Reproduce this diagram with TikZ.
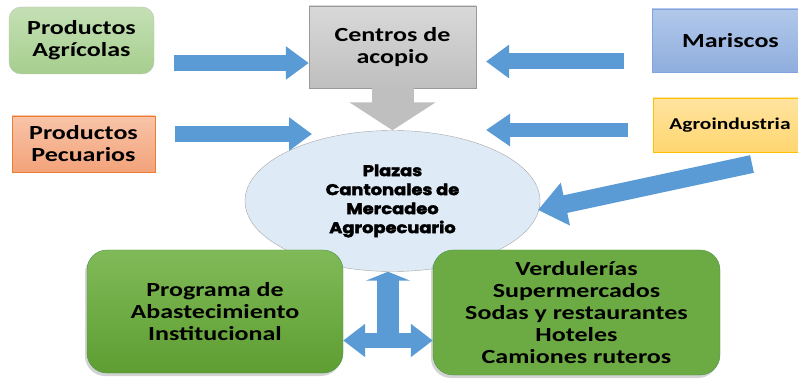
\documentclass[tikz,border=0pt]{standalone}
\usepackage{fontspec}
\setmainfont{Carlito}[FakeStretch=1.3]
\newfontfamily\plazafont{Poppins}[FakeStretch=1.15,FakeBold=2.5]
\usepackage{tikz}
\usetikzlibrary{arrows.meta}
\usetikzlibrary{positioning}
\usetikzlibrary{shapes,shadows}
\definecolor{azul}{HTML}{5B9BD5}
\definecolor{gris}{HTML}{BFBFBF}
\definecolor{celeste}{HTML}{DEEBF7}
\tikzstyle{caja}=[draw,align=center,font=\bfseries\fontsize{20}{22}\selectfont]
\tikzstyle{flecha}=[line width=16pt,draw=azul,-{Triangle[length=23pt,width=32pt]}]

\begin{document}
\begin{tikzpicture}[x=1pt,y=-1pt]
\useasboundingbox (0,0) rectangle (798,379);
\tikzstyle{verde}=[caja,rounded corners=20pt,draw=green!40!black!70,drop shadow={shadow xshift=-2pt,shadow yshift=-3pt,opacity=.35}]
    \node [caja,rounded corners=12pt,draw=gray!50,top color={rgb,255:red,196;green,224;blue,180},bottom color={rgb,255:red,166;green,206;blue,142},minimum width=145pt,minimum height=67pt] (agri) at (81.5,40.5) {Productos\\Agrícolas};
    \node [caja,draw={rgb,255:red,237;green,125;blue,49},top color={rgb,255:red,248;green,196;blue,168},bottom color={rgb,255:red,243;green,163;blue,122},minimum width=143pt,minimum height=56pt] (pecu) at (83.5,144) {Productos\\Pecuarios};
    \node [caja,draw=gray!80,top color=gray!30,bottom color=gris,minimum width=167pt,minimum height=82pt] (acopio) at (392.5,47) {Centros de\\acopio};
    \node [caja,draw={rgb,255:red,127;green,165;blue,220},top color={rgb,255:red,178;green,200;blue,234},bottom color={rgb,255:red,143;green,174;blue,222},minimum width=157pt,minimum height=63pt] (maris) at (730.5,40.5) {Mariscos};
    \node [caja,font=\bfseries\fontsize{16.5}{18}\selectfont,draw={rgb,255:red,255;green,192;blue,0},top color={rgb,255:red,255;green,228;blue,160},bottom color={rgb,255:red,255;green,214;blue,112},minimum width=154pt,minimum height=54pt] (agro) at (730,125) {Agroindustria};
    \node [draw=gray!70,fill=celeste,ellipse,minimum width=295pt,minimum height=141pt,align=center,font=\plazafont\bfseries\fontsize{15.5}{19}\selectfont] (plaza) at (392.5,201) {Plazas\\Cantonales de\\Mercadeo\\Agropecuario};
    \node [verde,top color={rgb,255:red,128;green,186;blue,88},bottom color={rgb,255:red,94;green,158;blue,50},minimum width=256pt,minimum height=123pt] (prog) at (215,311.5) {Programa de\\Abastecimiento\\Institucional};
    \node [verde,fill={rgb,255:red,108;green,170;blue,68},minimum width=287pt,minimum height=125pt] (verd) at (576.5,312.5) {Verdulerías\\Supermercados\\Sodas y restaurantes\\Hoteles\\Camiones ruteros};

\coordinate (a1) at (174,63);
\coordinate (p1) at (175,134);
\coordinate (p2) at (312,134);
\coordinate (m1) at (624,61.5);
\coordinate (m2) at (486,61.5);
\coordinate (g1) at (628,130);
\coordinate (g2) at (486,130);
\coordinate (d1) at (752,164);
\coordinate (d2) at (538,210);
\coordinate (cruce) at (388,340.5);

\draw [line width=42pt,draw=gris,-{Triangle[length=28pt,width=85pt]}] (acopio.south) -- (plaza.north);
\draw [flecha] (a1) -- (acopio.west |- a1);
\draw [flecha] (p1) -- (p2);
\draw [flecha] (m1) -- (m2);
\draw [flecha,line width=14pt,-{Triangle[length=24pt,width=31pt]}] (g1) -- (g2);
\draw [flecha,line width=18pt,-{Triangle[length=28pt,width=42pt]}] (d1) -- (d2);
\draw [flecha,line width=15pt,{Triangle[length=22pt,width=32pt]}-{Triangle[length=22pt,width=32pt]}] (prog.east |- cruce) -- (verd.west |- cruce);
\draw [flecha,line width=22pt,-{Triangle[length=9pt,width=44pt]}] (cruce) -- (cruce |- plaza.south);
\end{tikzpicture}
\end{document}
